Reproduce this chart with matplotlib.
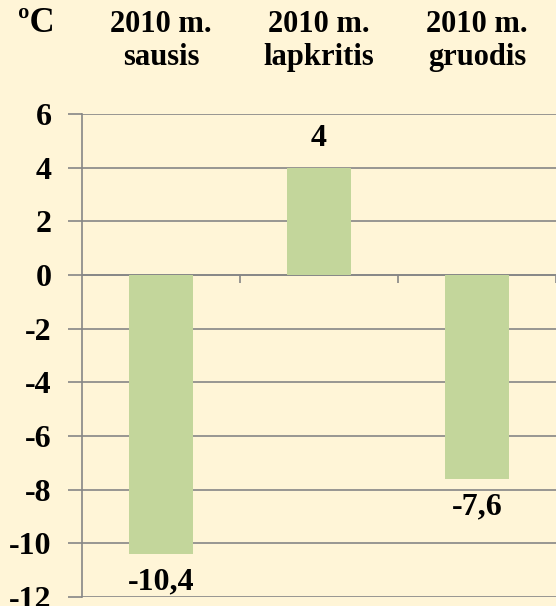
import matplotlib
matplotlib.use("Agg")
import matplotlib.pyplot as plt
import numpy as np

months = ["2010 m.\nsausis", "2010 m.\nlapkritis", "2010 m.\ngruodis"]
temps = [-10.4, 4, -7.6]
value_labels = ["-10,4", "4", "-7,6"]
yticks = [6, 4, 2, 0, -2, -4, -6, -8, -10, -12]

BG = "#fff5d7"
BAR = "#c3d69b"
GRID = "#868686"

plt.rcParams["font.family"] = ["Liberation Serif", "DejaVu Serif"]
plt.rcParams["font.weight"] = "bold"

fig = plt.figure(figsize=(5.56, 6.06), dpi=100, facecolor=BG)
ax = fig.add_axes([82 / 556, 9 / 606, 1 - 82 / 556, (597 - 114) / 606])
ax.set_facecolor(BG)

x = np.arange(len(temps))
ax.bar(x, temps, width=0.405, color=BAR, zorder=3)

ax.set_xlim(-0.5, len(temps) - 0.5)
ax.set_ylim(-12, 6)
ax.set_yticks(yticks)
ax.set_yticklabels([str(t) for t in yticks], fontsize=23, fontweight="bold")
ax.tick_params(axis="y", length=10, width=1.2, color=GRID, pad=12)
ax.grid(axis="y", color=GRID, linewidth=1.2, zorder=1)
ax.axhline(0, color=GRID, linewidth=1.2, zorder=2)

# category ticks on the zero line
ax.vlines(np.arange(len(temps)) + 0.5, -0.3, 0, color=GRID, linewidth=1.2, zorder=2)

ax.set_xticks(x)
ax.set_xticklabels(months, fontsize=22, fontweight="bold", linespacing=1.2)
ax.xaxis.tick_top()
ax.tick_params(axis="x", length=0, pad=30)

for s in ["top", "right", "bottom"]:
    ax.spines[s].set_visible(False)
ax.spines["left"].set_color(GRID)
ax.spines["left"].set_linewidth(1.2)

for xi, v, lab in zip(x, temps, value_labels):
    if v >= 0:
        ax.text(xi, v + 1.1, lab, ha="center", va="center", fontsize=23, fontweight="bold")
    else:
        ax.text(xi, v - 1.05, lab, ha="center", va="center", fontsize=23, fontweight="bold")

fig.text(18 / 556, 1 - 24 / 606, "ºC", ha="left", va="center", fontsize=25, fontweight="bold")

fig.savefig("out.png", dpi=100, facecolor=BG)
